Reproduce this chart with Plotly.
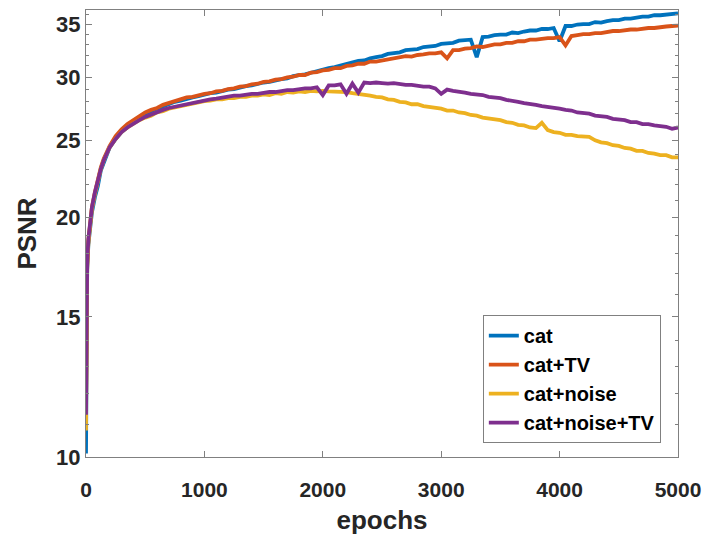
import plotly.graph_objects as go

# sample epochs
epochs_early = [0, 5, 10, 20, 35, 50, 75, 100, 125, 150, 175, 200, 250, 300, 350, 400, 450]
epochs_main = list(range(500, 5001, 50))
epochs = epochs_early + epochs_main

series_names = ["cat", "cat+TV", "cat+noise", "cat+noise+TV"]
series_colors = ["#0072BD", "#D95319", "#EDB120", "#7E2F8E"]

cat_early = [10.1, 15.0, 17.2, 18.5, 19.6, 20.3, 21.2, 21.9, 22.9, 23.4, 24.0, 24.5, 25.1, 25.6, 26.0, 26.4, 26.7]
cat_main = [27.0, 27.2, 27.4, 27.6, 27.75, 27.95, 28.05, 28.2, 28.3, 28.4,
            28.55, 28.65, 28.7, 28.85, 28.95, 29.0, 29.15, 29.25, 29.3, 29.45,
            29.55, 29.6, 29.75, 29.85, 29.9, 30.1, 30.2, 30.25, 30.4, 30.55,
            30.65, 30.8, 30.9, 31.05, 31.15, 31.3, 31.45, 31.5, 31.7, 31.8,
            31.9, 32.1, 32.2, 32.25, 32.45, 32.5, 32.55, 32.75, 32.8, 32.85,
            33.05, 33.1, 33.15, 33.35, 33.4, 33.45, 31.8, 33.7, 33.75, 33.9,
            33.95, 33.95, 34.15, 34.1, 34.25, 34.35, 34.35, 34.5, 34.5, 34.6,
            33.3, 34.8, 34.8, 34.95, 35.0, 35.0, 35.2, 35.15, 35.3, 35.4,
            35.4, 35.55, 35.55, 35.65, 35.75, 35.75, 35.9, 35.9, 36.0, 36.05, 36.1]

cat_tv_early = [11.6, 15.2, 17.4, 18.7, 19.9, 20.6, 21.5, 22.3, 23.1, 23.7, 24.2, 24.6, 25.3, 25.8, 26.2, 26.5, 26.8]
cat_tv_main = [27.1, 27.3, 27.45, 27.7, 27.85, 28.05, 28.15, 28.3, 28.35, 28.5,
               28.6, 28.65, 28.8, 28.85, 29.0, 29.05, 29.2, 29.25, 29.4, 29.45,
               29.6, 29.65, 29.8, 29.85, 30.0, 30.05, 30.2, 30.2, 30.4, 30.45,
               30.6, 30.65, 30.8, 30.8, 31.0, 31.05, 31.2, 31.2, 31.4, 31.4,
               31.5, 31.55, 31.7, 31.75, 31.9, 31.85, 32.0, 32.05, 32.15, 32.15,
               32.25, 31.7, 32.45, 32.45, 32.6, 32.65, 32.8, 32.75, 32.9, 33.0,
               33.0, 33.15, 33.15, 33.3, 33.3, 33.45, 33.45, 33.55, 33.6, 33.6,
               33.7, 32.9, 33.8, 33.9, 34.0, 34.0, 34.1, 34.1, 34.2, 34.3,
               34.3, 34.4, 34.45, 34.45, 34.55, 34.6, 34.6, 34.7, 34.75, 34.8, 34.85]

cat_noise_early = [10.8, 15.1, 17.3, 18.6, 19.8, 20.5, 21.4, 22.2, 23.0, 23.6, 24.1, 24.5, 25.1, 25.6, 25.95, 26.25, 26.5]
cat_noise_main = [26.7, 26.85, 27.1, 27.2, 27.4, 27.5, 27.65, 27.7, 27.85, 27.9,
                  28.0, 28.05, 28.15, 28.15, 28.25, 28.25, 28.35, 28.35, 28.45, 28.45,
                  28.55, 28.5, 28.65, 28.6, 28.75, 28.7, 28.8, 28.75, 28.85, 28.8,
                  28.85, 28.8, 28.8, 28.75, 28.75, 28.65, 28.6, 28.5, 28.45, 28.35,
                  28.3, 28.15, 28.1, 27.95, 27.9, 27.75, 27.75, 27.6, 27.55, 27.45,
                  27.4, 27.25, 27.25, 27.1, 27.05, 26.9, 26.85, 26.7, 26.65, 26.55,
                  26.5, 26.35, 26.3, 26.15, 26.1, 25.95, 25.9, 26.3, 25.75, 25.6,
                  25.55, 25.4, 25.4, 25.3, 25.3, 25.25, 25.0, 24.85, 24.8, 24.65,
                  24.6, 24.45, 24.4, 24.25, 24.25, 24.1, 24.05, 23.95, 23.95, 23.8, 23.8]

cat_noise_tv_early = [11.3, 15.3, 17.5, 18.8, 19.9, 20.6, 21.5, 22.3, 23.0, 23.6, 24.1, 24.5, 25.1, 25.6, 25.95, 26.25, 26.5]
cat_noise_tv_main = [26.75, 26.95, 27.1, 27.3, 27.45, 27.55, 27.7, 27.8, 27.85, 28.0,
                     28.05, 28.15, 28.2, 28.3, 28.35, 28.45, 28.45, 28.55, 28.6, 28.6,
                     28.7, 28.75, 28.75, 28.85, 28.9, 28.9, 29.0, 29.05, 29.05, 29.15,
                     28.5, 29.3, 29.3, 29.4, 28.6, 29.45, 28.7, 29.55, 29.5, 29.55,
                     29.5, 29.45, 29.5, 29.4, 29.35, 29.35, 29.25, 29.2, 29.2, 29.05,
                     28.6, 28.95, 28.85, 28.8, 28.7, 28.6, 28.55, 28.5, 28.35, 28.3,
                     28.25, 28.1, 28.05, 27.95, 27.85, 27.8, 27.7, 27.6, 27.55, 27.5,
                     27.4, 27.3, 27.25, 27.1, 27.05, 27.0, 26.85, 26.8, 26.75, 26.6,
                     26.55, 26.5, 26.35, 26.35, 26.2, 26.2, 26.1, 26.05, 26.0, 25.85, 25.95]

series_values = [cat_early + cat_main,
                 cat_tv_early + cat_tv_main,
                 cat_noise_early + cat_noise_main,
                 cat_noise_tv_early + cat_noise_tv_main]

x_ticks = [0, 1000, 2000, 3000, 4000, 5000]
y_ticks = [10, 15, 20, 25, 30, 35]
y_minor = [11, 12, 13, 14, 16, 17, 18, 19, 21, 22, 23, 24, 26, 27, 28, 29, 31, 32, 33, 34, 36]

for v in series_values:
    assert len(v) == len(epochs), (len(v), len(epochs))

FONT = "Liberation Sans, Arial, Helvetica, sans-serif"
AXC = "#808080"
TXT = "#262626"

fig = go.Figure()
for name, color, vals in zip(series_names, series_colors, series_values):
    fig.add_trace(go.Scatter(x=epochs, y=vals, mode="lines", name=name,
                             line=dict(color=color, width=3.8)))

fig.update_layout(
    width=705, height=536,
    margin=dict(l=86, r=27, t=10, b=79),
    plot_bgcolor="white", paper_bgcolor="white",
    font=dict(family=FONT, size=22, color=TXT, weight="bold"),
    showlegend=True,
    legend=dict(x=0.971, y=0.031, xanchor="right", yanchor="bottom",
                bordercolor=AXC, borderwidth=1, bgcolor="white",
                font=dict(family=FONT, size=20, color="black", weight="bold"),
                tracegroupgap=0),
)

fig.update_xaxes(
    range=[0, 5000], tickmode="array", tickvals=x_ticks,
    ticktext=[str(t) for t in x_ticks],
    ticks="inside", ticklen=6, tickwidth=1, tickcolor=AXC,
    showline=True, linecolor=AXC, linewidth=1, mirror="allticks",
    showgrid=False, zeroline=False, automargin=False,
    ticklabelstandoff=14,
    tickfont=dict(family=FONT, size=21, color=TXT, weight="bold"),
    title=dict(text="epochs", font=dict(family=FONT, size=26, color=TXT, weight="bold"), standoff=10),
)

fig.update_yaxes(
    type="log", range=[1, 1.5617], tickmode="array", tickvals=y_ticks,
    ticktext=[str(t) for t in y_ticks],
    ticks="inside", ticklen=6, tickwidth=1, tickcolor=AXC,
    minor=dict(tickmode="array", tickvals=y_minor, ticks="inside", ticklen=3, tickcolor=AXC, showgrid=False),
    showline=True, linecolor=AXC, linewidth=1, mirror="allticks",
    showgrid=False, zeroline=False, automargin=False,
    tickfont=dict(family=FONT, size=22, color=TXT, weight="bold"),
    title=dict(text="PSNR", font=dict(family=FONT, size=26, color=TXT, weight="bold"), standoff=12),
)

fig.write_html("out.html", config={"displayModeBar": False},
               post_script="document.body.style.margin='0';")
